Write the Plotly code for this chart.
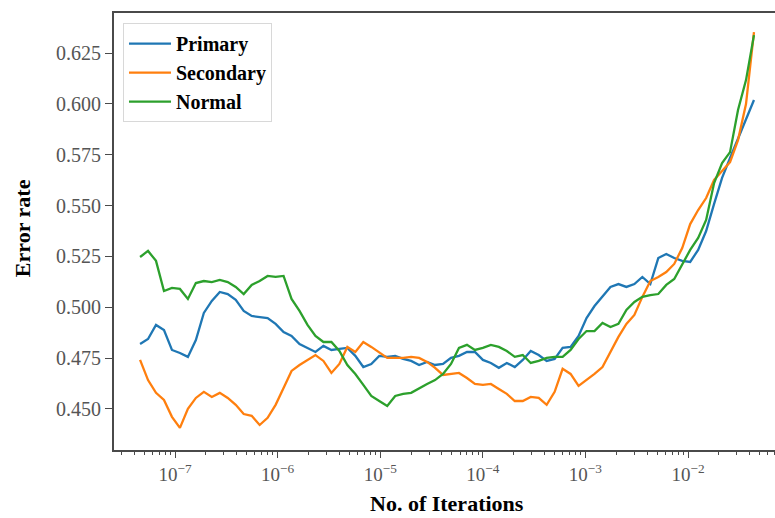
import numpy as np
import plotly.graph_objects as go

# iteration grid (log10 exponents of first and last sample)
log_iter_start = -7.341
log_iter_end = -1.357
n_points = 78

primary = [0.4819, 0.4844, 0.4913, 0.4888, 0.4790, 0.4775, 0.4756, 0.4839, 0.4972, 0.5031,
           0.5075, 0.5065, 0.5036, 0.4982, 0.4957, 0.4952, 0.4947, 0.4918, 0.4878, 0.4859,
           0.4819, 0.4800, 0.4780, 0.4810, 0.4790, 0.4795, 0.4800, 0.4761, 0.4706, 0.4721,
           0.4761, 0.4756, 0.4761, 0.4746, 0.4736, 0.4716, 0.4731, 0.4716, 0.4721, 0.4751,
           0.4761, 0.4780, 0.4780, 0.4741, 0.4726, 0.4702, 0.4726, 0.4706, 0.4741, 0.4785,
           0.4765, 0.4736, 0.4746, 0.4800, 0.4805, 0.4859, 0.4947, 0.5006, 0.5051, 0.5100,
           0.5114, 0.5100, 0.5114, 0.5149, 0.5114, 0.5242, 0.5262, 0.5242, 0.5228, 0.5223,
           0.5282, 0.5375, 0.5508, 0.5636, 0.5734, 0.5832, 0.5930, 0.6019]

secondary = [0.4741, 0.4642, 0.4579, 0.4544, 0.4461, 0.4407, 0.4500, 0.4554, 0.4584, 0.4559,
             0.4579, 0.4554, 0.4520, 0.4475, 0.4466, 0.4421, 0.4456, 0.4520, 0.4603, 0.4687,
             0.4716, 0.4741, 0.4765, 0.4736, 0.4677, 0.4721, 0.4805, 0.4780, 0.4829, 0.4805,
             0.4780, 0.4751, 0.4751, 0.4751, 0.4756, 0.4751, 0.4731, 0.4702, 0.4667, 0.4672,
             0.4677, 0.4652, 0.4623, 0.4618, 0.4623, 0.4598, 0.4574, 0.4539, 0.4539, 0.4559,
             0.4554, 0.4520, 0.4584, 0.4697, 0.4672, 0.4613, 0.4642, 0.4672, 0.4706, 0.4780,
             0.4854, 0.4918, 0.4962, 0.5051, 0.5129, 0.5149, 0.5173, 0.5213, 0.5291, 0.5409,
             0.5478, 0.5537, 0.5626, 0.5670, 0.5714, 0.5822, 0.5999, 0.6353]

normal = [0.5247, 0.5277, 0.5228, 0.5080, 0.5095, 0.5090, 0.5041, 0.5119, 0.5129, 0.5124,
          0.5134, 0.5124, 0.5100, 0.5065, 0.5110, 0.5129, 0.5154, 0.5149, 0.5154, 0.5041,
          0.4982, 0.4913, 0.4859, 0.4829, 0.4829, 0.4785, 0.4716, 0.4672, 0.4618, 0.4564,
          0.4539, 0.4515, 0.4564, 0.4574, 0.4579, 0.4603, 0.4623, 0.4642, 0.4672, 0.4721,
          0.4800, 0.4815, 0.4790, 0.4800, 0.4815, 0.4805, 0.4785, 0.4756, 0.4765, 0.4726,
          0.4736, 0.4751, 0.4756, 0.4756, 0.4790, 0.4844, 0.4883, 0.4883, 0.4923, 0.4903,
          0.4918, 0.4987, 0.5026, 0.5051, 0.5060, 0.5065, 0.5110, 0.5139, 0.5208, 0.5282,
          0.5341, 0.5429, 0.5611, 0.5709, 0.5763, 0.5970, 0.6117, 0.6338]

series_names = ["Primary", "Secondary", "Normal"]
series_colors = ["#1f77b4", "#ff7f0e", "#2ca02c"]

x_tick_vals = [1e-7, 1e-6, 1e-5, 1e-4, 1e-3, 1e-2]
x_tick_text = ["10<sup>\u22127</sup>", "10<sup>\u22126</sup>", "10<sup>\u22125</sup>",
               "10<sup>\u22124</sup>", "10<sup>\u22123</sup>", "10<sup>\u22122</sup>"]
y_tick_vals = [0.450, 0.475, 0.500, 0.525, 0.550, 0.575, 0.600, 0.625]
y_tick_text = ["0.450", "0.475", "0.500", "0.525", "0.550", "0.575", "0.600", "0.625"]

iterations = 10 ** np.linspace(log_iter_start, log_iter_end, n_points)

fig = go.Figure()
for name, vals, col in zip(series_names, [primary, secondary, normal], series_colors):
    fig.add_trace(go.Scatter(x=iterations, y=vals, mode="lines", name="<b>" + name + "</b>",
                             legendgroup=name,
                             line=dict(color=col, width=2.3)))

serif = "Liberation Serif"
axis_col = "#4a4a4a"

fig.update_layout(
    width=775, height=518,
    margin=dict(l=114, r=0, t=13, b=68),
    paper_bgcolor="white", plot_bgcolor="white",
    showlegend=True,
    legend=dict(x=0.0136, y=0.977, xanchor="left", yanchor="top",
                bgcolor="rgba(255,255,255,0.85)", bordercolor="#d8d8d8", borderwidth=1,
                font=dict(family=serif, size=20, color="black"),
                tracegroupgap=0, traceorder="grouped",
                itemwidth=42),
    xaxis=dict(type="log", range=[-7.595, -1.152],
               tickvals=x_tick_vals, ticktext=x_tick_text,
               ticks="outside", ticklen=6, tickwidth=1.3, tickcolor=axis_col,
               minor=dict(ticks="outside", ticklen=3, tickwidth=1, tickcolor=axis_col,
                          dtick="D1", showgrid=False),
               showgrid=False, zeroline=False,
               showline=True, linecolor=axis_col, linewidth=1.8, mirror=True,
               tickfont=dict(family=serif, size=19, color="#555555")),
    yaxis=dict(range=[0.4298, 0.6447],
               tickvals=y_tick_vals, ticktext=y_tick_text,
               ticks="outside", ticklen=7, tickwidth=1.3, tickcolor=axis_col,
               showgrid=False, zeroline=False,
               showline=True, linecolor=axis_col, linewidth=1.8, mirror=False,
               tickfont=dict(family=serif, size=20, color="#555555")),
    annotations=[
        dict(text="<b>No. of Iterations</b>", xref="paper", yref="paper",
             x=0.504, y=-0.1556, xanchor="center", yanchor="bottom", showarrow=False,
             font=dict(family=serif, size=22, color="black")),
        dict(text="<b>Error rate</b>", xref="paper", yref="paper",
             x=-0.139, y=0.508, xanchor="center", yanchor="middle", showarrow=False,
             textangle=-90, font=dict(family=serif, size=22, color="black")),
    ],
)

fig.write_html("out.html", config={"displayModeBar": False},
               post_script="document.body.style.margin='0';document.body.style.overflow='hidden';")
